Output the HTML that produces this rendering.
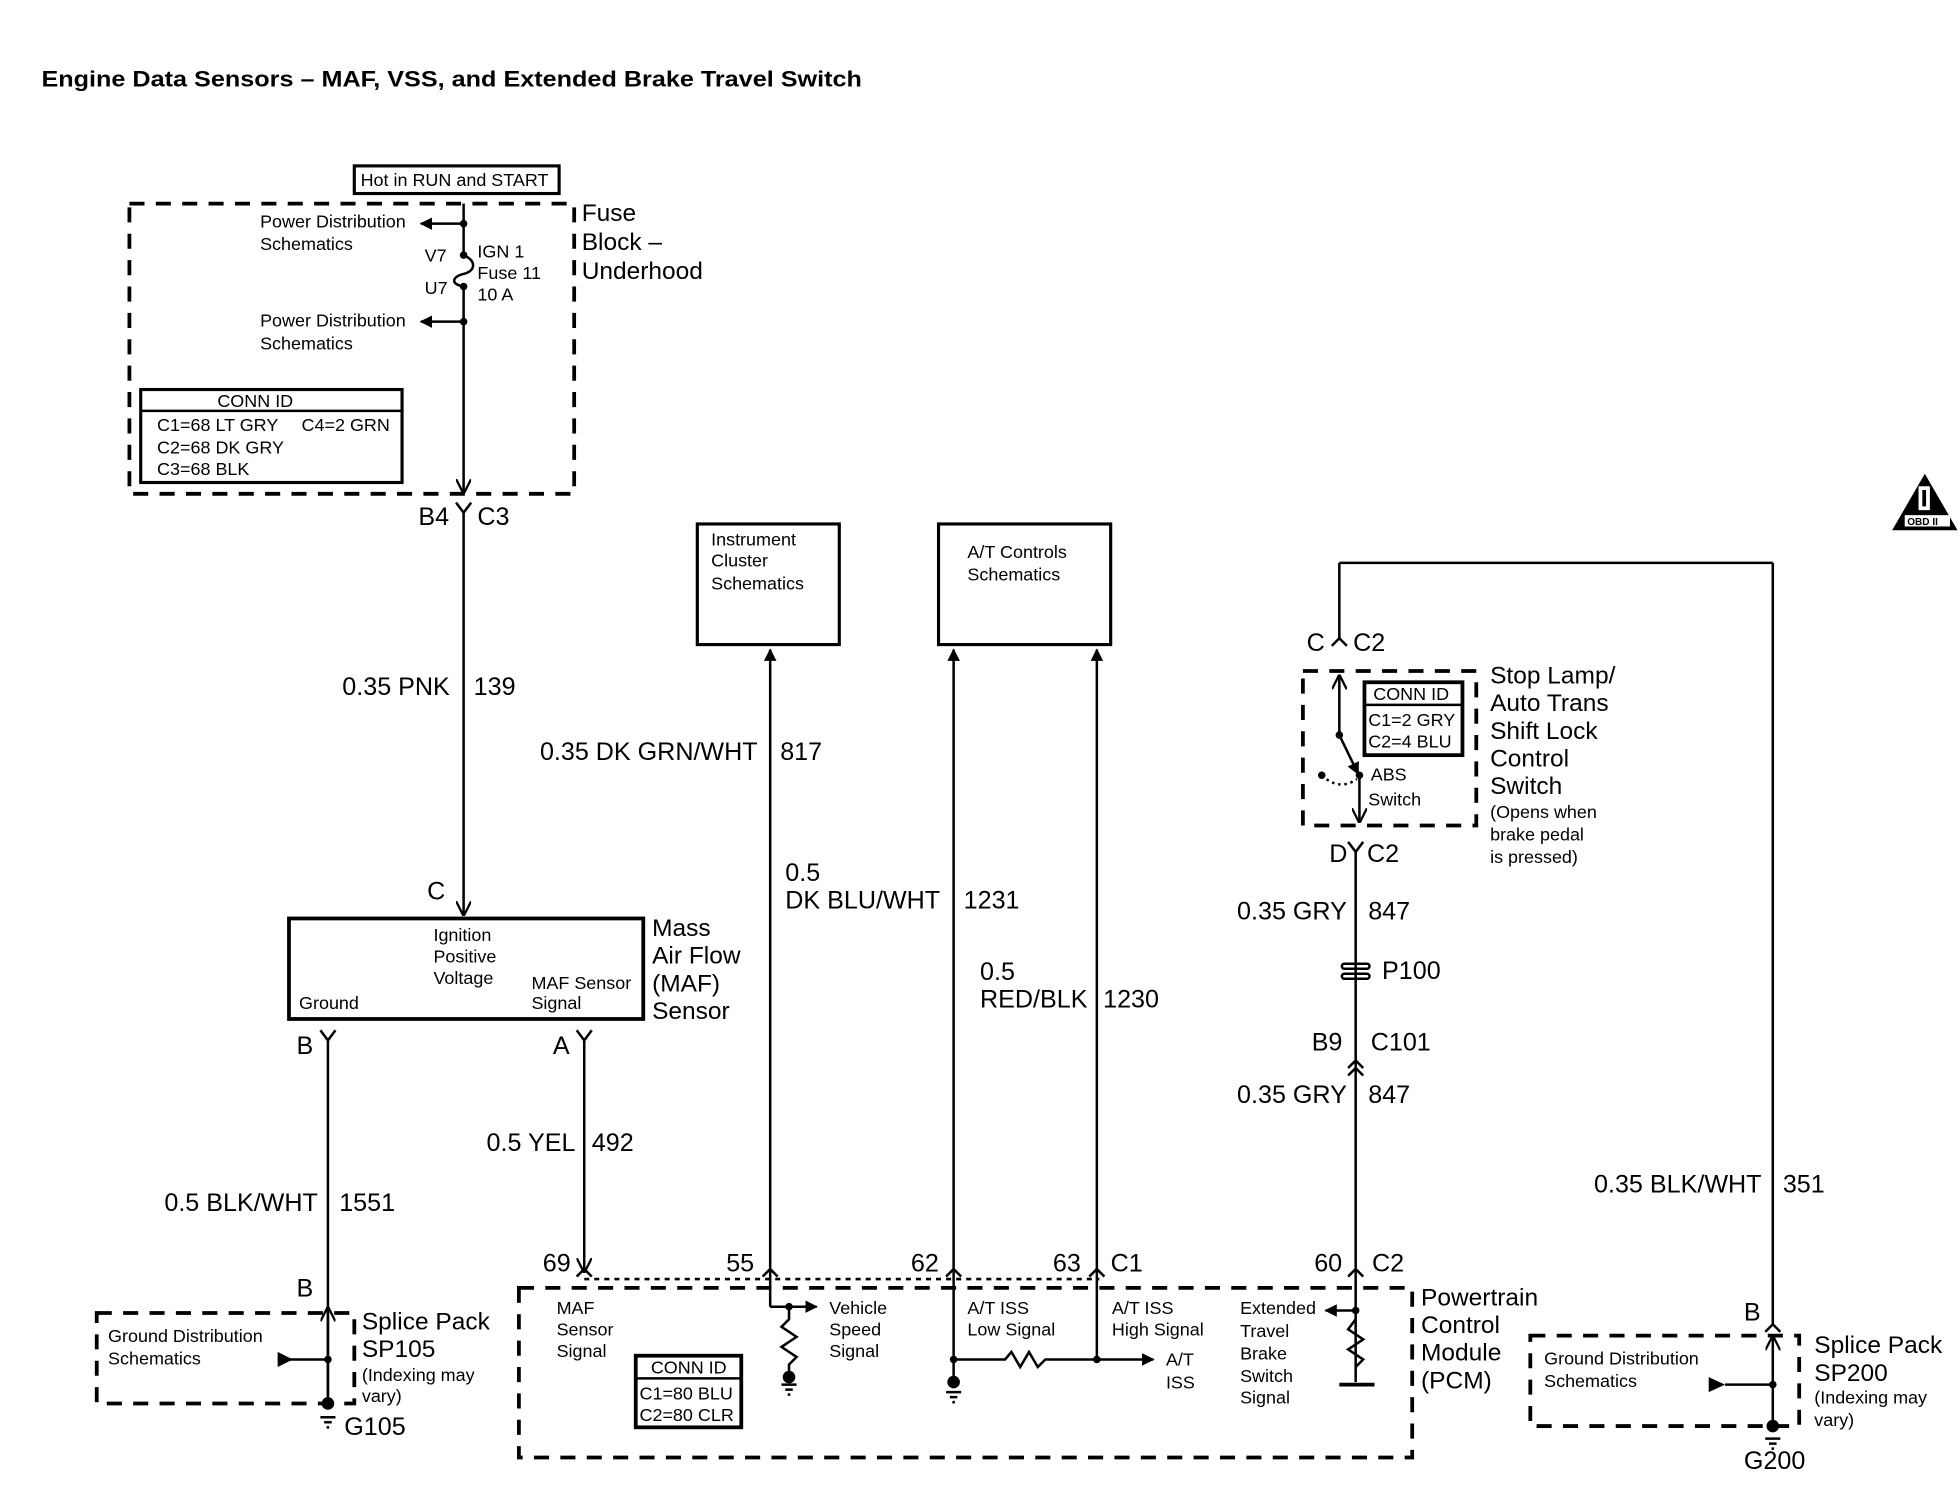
<!DOCTYPE html>
<html><head><meta charset="utf-8"><style>
html,body{margin:0;padding:0;background:#fff;}
svg{display:block;}
text{font-family:"Liberation Sans",Arial,sans-serif;fill:#000;}
.s{font-size:14.3px;}
.m{font-size:20px;}
.b{font-size:19.5px;}
</style></head><body>
<svg width="1960" height="1504" viewBox="0 0 1560 1197" xmlns="http://www.w3.org/2000/svg">
<defs>
<marker id="ar" viewBox="0 0 10 10" refX="9" refY="5" markerWidth="5" markerHeight="5" orient="auto"><path d="M0,0 L10,5 L0,10 z" fill="#000"/></marker>
<marker id="op" viewBox="0 0 10 10" refX="9" refY="5" markerWidth="6" markerHeight="6" orient="auto"><path d="M0,0 L10,5 L0,10" fill="none" stroke="#000" stroke-width="1.5"/></marker>
</defs>
<g fill="none" stroke="#000">
<rect x="103" y="162" width="354" height="231" stroke-width="3" stroke-dasharray="12,9"/>
<rect x="77" y="1045" width="205" height="72" stroke-width="3" stroke-dasharray="12,9"/>
<rect x="413" y="1025" width="711" height="135" stroke-width="3" stroke-dasharray="12,9"/>
<rect x="1037" y="534" width="138" height="123" stroke-width="3" stroke-dasharray="12,9"/>
<rect x="1218" y="1063" width="214" height="72" stroke-width="3" stroke-dasharray="12,9"/>
<line x1="465" y1="1018" x2="875" y2="1018" stroke-width="2" stroke-dasharray="4,4"/>
<rect x="282" y="132" width="163" height="22" stroke-width="2.5"/>
<rect x="112" y="310" width="208" height="74" stroke-width="2.5"/><line x1="112" y1="327" x2="320" y2="327" stroke-width="2"/>
<rect x="230" y="731" width="282" height="80" stroke-width="3"/>
<rect x="555" y="417" width="113" height="96" stroke-width="2.5"/>
<rect x="747" y="417" width="137" height="96" stroke-width="2.5"/>
<rect x="506" y="1079" width="84" height="57" stroke-width="3"/><line x1="506" y1="1097" x2="590" y2="1097" stroke-width="2"/>
<rect x="1086" y="543" width="78" height="58" stroke-width="3"/><line x1="1086" y1="561" x2="1164" y2="561" stroke-width="2"/>
<g stroke-width="2">
<line x1="369" y1="162" x2="369" y2="203"/>
<path d="M369,203 C380,208 378,216 369,218 C360,220 358,226 369,228"/>
<line x1="369" y1="228" x2="369" y2="392" marker-end="url(#op)"/>
<line x1="369" y1="178" x2="335" y2="178" marker-end="url(#ar)"/>
<line x1="369" y1="256" x2="335" y2="256" marker-end="url(#ar)"/>
<path d="M363,400 L369,408 L375,400"/><line x1="369" y1="408" x2="369" y2="728" marker-end="url(#op)"/>
<path d="M255,820 L261,828 L267,820"/><line x1="261" y1="828" x2="261" y2="1117"/>
<line x1="261" y1="1117" x2="261" y2="1041" marker-end="url(#op)"/>
<path d="M459,820 L465,828 L471,820"/><line x1="465" y1="828" x2="465" y2="1012" marker-end="url(#op)"/>
<line x1="221" y1="1082" x2="261" y2="1082"/>
<line x1="613" y1="1040" x2="613" y2="517" marker-end="url(#ar)"/>
<line x1="759" y1="1100" x2="759" y2="517" marker-end="url(#ar)"/>
<line x1="873" y1="1082" x2="873" y2="517" marker-end="url(#ar)"/>
<path d="M607,1016 L613,1010 L619,1016 M753,1016 L759,1010 L765,1016 M867,1016 L873,1010 L879,1016 M459,1016 L465,1010 L471,1016"/>
<line x1="613" y1="1040" x2="650" y2="1040" marker-end="url(#ar)"/>
<path d="M628,1040 L628,1050 L622,1056 L634,1064 L622,1072 L634,1080 L628,1086 L628,1094"/>
<path d="M759,1082 L800,1082 L805,1076 L812,1088 L819,1076 L826,1088 L832,1082 L873,1082"/>
<line x1="873" y1="1082" x2="918" y2="1082" marker-end="url(#ar)"/>
<line x1="1079" y1="1100" x2="1079" y2="678"/>
<line x1="1079" y1="1043" x2="1055" y2="1043" marker-end="url(#ar)"/>
<path d="M1079,1050 L1073,1058 L1085,1066 L1073,1074 L1085,1082 L1079,1088"/>
<line x1="1066" y1="1102" x2="1094" y2="1102" stroke-width="3"/>
<path d="M1073,1016 L1079,1010 L1085,1016 M1073,850 L1079,844 L1085,850 M1073,856 L1079,850 L1085,856 M1073,670 L1079,678 L1085,670"/>
<rect x="1068" y="767" width="22" height="4" rx="2"/><rect x="1068" y="775" width="22" height="4" rx="2"/>
<line x1="1066" y1="585" x2="1066" y2="538" marker-end="url(#op)"/>
<line x1="1066" y1="508" x2="1066" y2="448"/>
<path d="M1060,514 L1066,508 L1072,514"/>
<line x1="1066" y1="448" x2="1411" y2="448"/>
<line x1="1411" y1="448" x2="1411" y2="1054"/>
<path d="M1405,1060 L1411,1054 L1417,1060"/>
<line x1="1411" y1="1135" x2="1411" y2="1064" marker-end="url(#op)"/>
<line x1="1373" y1="1102" x2="1411" y2="1102"/>
<line x1="1066" y1="585" x2="1081" y2="616" marker-end="url(#ar)"/>
<line x1="1082" y1="617" x2="1082" y2="654" marker-end="url(#op)"/>
<path d="M1052,617 Q1066,630 1080,620" stroke-dasharray="2,3"/>
</g>
<g stroke-width="2">
<path d="M255,1128 h12 M258,1132 h6 M260,1136 h2"/>
<path d="M622,1102 h12 M625,1106 h6 M627,1110 h2"/>
<path d="M753,1108 h12 M756,1112 h6 M758,1116 h2"/>
<path d="M1405,1145 h12 M1408,1149 h6 M1410,1153 h2"/>
</g>
</g>
<g fill="#000">
<circle cx="369" cy="178" r="3"/><circle cx="369" cy="203" r="3"/><circle cx="369" cy="228" r="3"/><circle cx="369" cy="256" r="3"/>
<circle cx="261" cy="1082" r="3"/><circle cx="261" cy="1117" r="5"/>
<path d="M221,1076 L233,1082 L221,1088 z"/>
<path d="M1360,1096 L1373,1102 L1360,1108 z"/>
<circle cx="1411" cy="1102" r="3"/><circle cx="1411" cy="1135" r="5"/>
<circle cx="628" cy="1040" r="3"/><circle cx="628" cy="1096" r="5"/>
<circle cx="759" cy="1082" r="3"/><circle cx="759" cy="1100" r="5"/>
<circle cx="873" cy="1082" r="3"/>
<circle cx="1079" cy="1043" r="3"/>
<circle cx="1066" cy="585" r="3"/><circle cx="1082" cy="617" r="3"/><circle cx="1052" cy="617" r="3"/>
<path d="M1532,377 L1558,422 L1506,422 z"/>
</g>
<rect x="1516" y="410" width="36" height="9" fill="#fff"/>
<rect x="1527" y="387" width="9" height="19" fill="#fff"/><rect x="1530" y="390" width="3" height="13" fill="#000"/>
<text x="1518" y="418" style="font-size:8px;font-weight:bold">OBD II</text>

<text x="33" y="69" textLength="653" lengthAdjust="spacingAndGlyphs" style="font-size:18px;font-weight:bold">Engine Data Sensors – MAF, VSS, and Extended Brake Travel Switch</text>
<g class="s">
<text x="287" y="148">Hot in RUN and START</text>
<text x="207" y="181">Power Distribution</text><text x="207" y="199">Schematics</text>
<text x="207" y="260">Power Distribution</text><text x="207" y="278">Schematics</text>
<text x="338" y="208">V7</text><text x="338" y="234">U7</text>
<text x="380" y="205">IGN 1</text><text x="380" y="222">Fuse 11</text><text x="380" y="239">10 A</text>
<text x="173" y="324">CONN ID</text>
<text x="125" y="343">C1=68 LT GRY</text><text x="240" y="343">C4=2 GRN</text>
<text x="125" y="361">C2=68 DK GRY</text><text x="125" y="378">C3=68 BLK</text>
<text x="566" y="434">Instrument</text><text x="566" y="451">Cluster</text><text x="566" y="469">Schematics</text>
<text x="770" y="444">A/T Controls</text><text x="770" y="462">Schematics</text>
<text x="345" y="749">Ignition</text><text x="345" y="766">Positive</text><text x="345" y="783">Voltage</text>
<text x="238" y="803">Ground</text><text x="423" y="787">MAF Sensor</text><text x="423" y="803">Signal</text>
<text x="86" y="1068">Ground Distribution</text><text x="86" y="1086">Schematics</text>
<text x="288" y="1099">(Indexing may</text><text x="288" y="1116">vary)</text>
<text x="443" y="1046">MAF</text><text x="443" y="1063">Sensor</text><text x="443" y="1080">Signal</text>
<text x="518" y="1093">CONN ID</text><text x="509" y="1114">C1=80 BLU</text><text x="509" y="1131">C2=80 CLR</text>
<text x="660" y="1046">Vehicle</text><text x="660" y="1063">Speed</text><text x="660" y="1080">Signal</text>
<text x="770" y="1046">A/T ISS</text><text x="770" y="1063">Low Signal</text>
<text x="885" y="1046">A/T ISS</text><text x="885" y="1063">High Signal</text>
<text x="928" y="1087">A/T</text><text x="928" y="1105">ISS</text>
<text x="987" y="1046">Extended</text><text x="987" y="1064">Travel</text><text x="987" y="1082">Brake</text><text x="987" y="1100">Switch</text><text x="987" y="1117">Signal</text>
<text x="1093" y="557">CONN ID</text><text x="1089" y="578">C1=2 GRY</text><text x="1089" y="595">C2=4 BLU</text>
<text x="1091" y="621">ABS</text><text x="1089" y="641">Switch</text>
<text x="1186" y="651">(Opens when</text><text x="1186" y="669">brake pedal</text><text x="1186" y="687">is pressed)</text>
<text x="1229" y="1086">Ground Distribution</text><text x="1229" y="1104">Schematics</text>
<text x="1444" y="1117">(Indexing may</text><text x="1444" y="1135">vary)</text>
</g>
<g class="b">
<text x="463" y="176">Fuse</text><text x="463" y="199">Block –</text><text x="463" y="222">Underhood</text>
<text x="519" y="745">Mass</text><text x="519" y="767">Air Flow</text><text x="519" y="789">(MAF)</text><text x="519" y="811">Sensor</text>
<text x="288" y="1058">Splice Pack</text><text x="288" y="1080">SP105</text>
<text x="1131" y="1039">Powertrain</text><text x="1131" y="1061">Control</text><text x="1131" y="1083">Module</text><text x="1131" y="1105">(PCM)</text>
<text x="1186" y="544">Stop Lamp/</text><text x="1186" y="566">Auto Trans</text><text x="1186" y="588">Shift Lock</text><text x="1186" y="610">Control</text><text x="1186" y="632">Switch</text>
<text x="1444" y="1077">Splice Pack</text><text x="1444" y="1099">SP200</text>
</g>
<g class="m">
<text x="333" y="418">B4</text><text x="380" y="418">C3</text>
<text x="358" y="553" text-anchor="end">0.35 PNK</text><text x="377" y="553">139</text>
<text x="340" y="716">C</text>
<text x="236" y="839">B</text><text x="440" y="839">A</text>
<text x="253" y="964" text-anchor="end">0.5 BLK/WHT</text><text x="270" y="964">1551</text>
<text x="458" y="916" text-anchor="end">0.5 YEL</text><text x="471" y="916">492</text>
<text x="236" y="1032">B</text>
<text x="274" y="1142">G105</text>
<text x="603" y="605" text-anchor="end">0.35 DK GRN/WHT</text><text x="621" y="605">817</text>
<text x="625" y="701">0.5</text><text x="625" y="723">DK BLU/WHT</text><text x="767" y="723">1231</text>
<text x="780" y="780">0.5</text><text x="780" y="802">RED/BLK</text><text x="878" y="802">1230</text>
<text x="432" y="1012">69</text><text x="578" y="1012">55</text><text x="725" y="1012">62</text><text x="838" y="1012">63</text><text x="884" y="1012">C1</text>
<text x="1046" y="1012">60</text><text x="1092" y="1012">C2</text>
<text x="1040" y="518">C</text><text x="1077" y="518">C2</text>
<text x="1058" y="686">D</text><text x="1088" y="686">C2</text>
<text x="1072" y="732" text-anchor="end">0.35 GRY</text><text x="1089" y="732">847</text>
<text x="1100" y="779">P100</text>
<text x="1044" y="836">B9</text><text x="1091" y="836">C101</text>
<text x="1072" y="878" text-anchor="end">0.35 GRY</text><text x="1089" y="878">847</text>
<text x="1402" y="949" text-anchor="end">0.35 BLK/WHT</text><text x="1419" y="949">351</text>
<text x="1388" y="1051">B</text>
<text x="1388" y="1169">G200</text>
</g>
</svg>
</body></html>
